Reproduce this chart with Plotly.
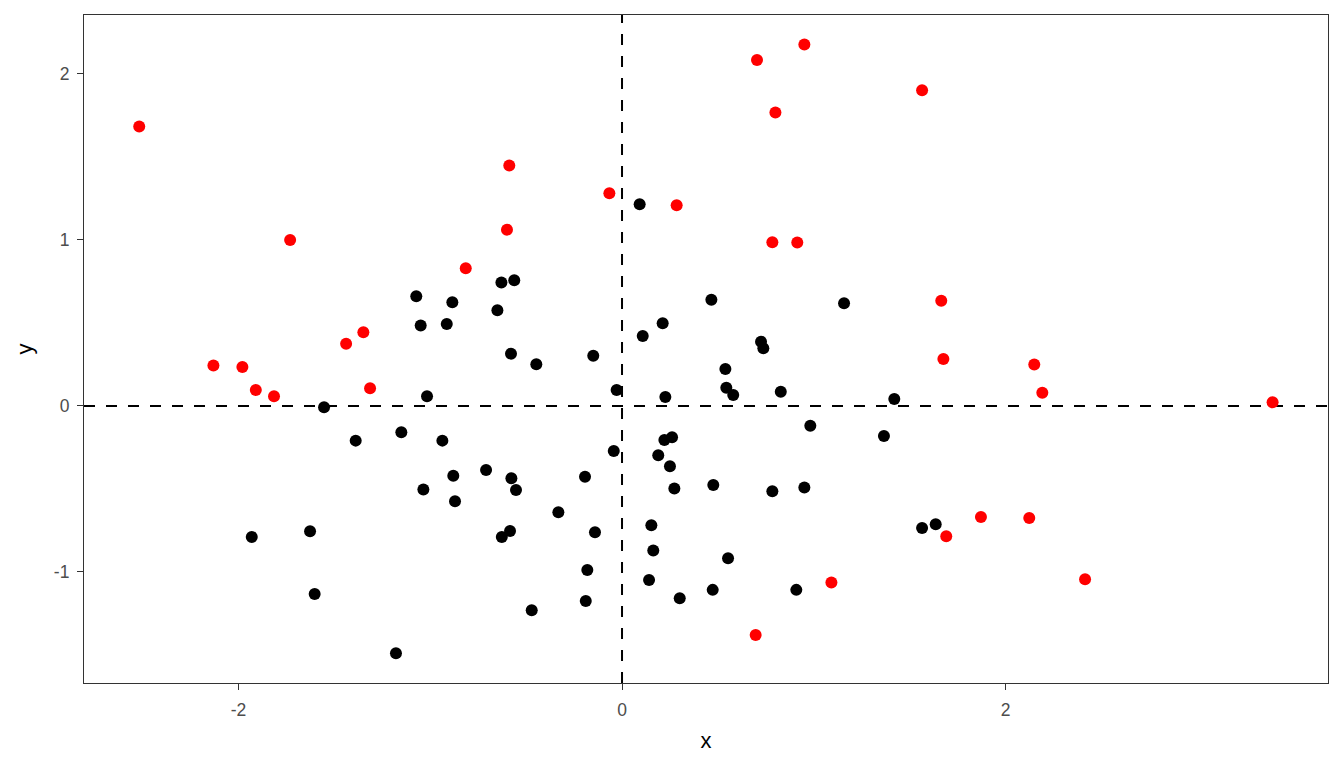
import plotly.graph_objects as go

# puntos negros (cerca del centro)
x_black = [-1.073, -0.885, -1.050, -0.914, -1.017, -1.554, -0.028, -1.389, -1.151, -0.937,
           -0.043, -0.709, -0.880, -0.577, -0.193, -0.553, -1.036, -0.871, -0.332, -1.931,
           -1.627, -0.584, -0.627, -0.141, -0.181, -1.603, -0.189, -0.471, -1.179, 0.092,
           0.466, 1.158, 0.212, 0.108, -0.150, 0.725, 0.737, 0.539, 0.544, 0.580,
           0.828, 0.226, 1.420, 0.982, 1.366, 0.221, 0.261, 0.189, 0.250, 0.273,
           0.476, 0.784, 0.951, 0.153, 0.163, 0.553, 0.141, 0.473, 0.301, 0.909,
           -0.629, -0.562, -0.650, -0.579, -0.447, 1.565, 1.636]
y_black = [0.661, 0.625, 0.484, 0.494, 0.058, -0.008, 0.096, -0.209, -0.159, -0.209,
           -0.271, -0.386, -0.420, -0.436, -0.426, -0.506, -0.504, -0.574, -0.641, -0.789,
           -0.755, -0.753, -0.789, -0.761, -0.988, -1.133, -1.175, -1.231, -1.490, 1.215,
           0.639, 0.619, 0.498, 0.422, 0.303, 0.387, 0.347, 0.223, 0.110, 0.066,
           0.086, 0.054, 0.042, -0.120, -0.181, -0.205, -0.189, -0.297, -0.363, -0.498,
           -0.476, -0.514, -0.492, -0.719, -0.871, -0.918, -1.048, -1.108, -1.159, -1.108,
           0.743, 0.757, 0.576, 0.315, 0.251, -0.735, -0.713]

# puntos rojos (alejados)
x_red = [-2.518, -1.731, -0.815, -1.349, -1.439, -2.131, -1.980, -1.910, -1.815, -1.314,
         -0.588, -0.600, -0.066, 0.285, 0.784, 0.914, 0.704, 0.951, 0.800, 1.565,
         1.665, 1.676, 2.150, 2.192, 3.393, 1.691, 1.872, 2.124, 2.415, 1.092, 0.697]
y_red = [1.683, 1.000, 0.829, 0.444, 0.375, 0.243, 0.235, 0.096, 0.058, 0.107,
         1.448, 1.062, 1.281, 1.209, 0.986, 0.984, 2.084, 2.177, 1.767, 1.902,
         0.633, 0.283, 0.249, 0.080, 0.022, -0.785, -0.669, -0.675, -1.044, -1.064, -1.380]

x_ticks = [-2, 0, 2]
x_tick_text = ["-2", "0", "2"]
y_ticks = [-1, 0, 1, 2]
y_tick_text = ["-1", "0", "1", "2"]

fig = go.Figure()
fig.add_trace(go.Scatter(x=x_black, y=y_black, mode="markers",
                         marker=dict(color="black", size=12), showlegend=False))
fig.add_trace(go.Scatter(x=x_red, y=y_red, mode="markers",
                         marker=dict(color="red", size=12), showlegend=False))

# lineas punteadas en x=0 e y=0
fig.add_hline(y=0, line=dict(color="black", width=2, dash="11px,11px"), layer="below")
fig.add_vline(x=0, line=dict(color="black", width=2, dash="11px,11px"), layer="below")

axis_style = dict(showgrid=False, zeroline=False, showline=True, mirror=True,
                  linecolor="#333333", linewidth=1.2, ticks="outside", ticklen=6,
                  tickcolor="#333333", tickwidth=1.4,
                  tickfont=dict(family="Liberation Sans, Arial", size=17.5, color="#4d4d4d"),
                  title_font=dict(family="Liberation Sans, Arial", size=22, color="black"))

fig.update_xaxes(axis_style, range=[-2.806, 3.682], tickvals=x_ticks, ticktext=x_tick_text,
                 ticklabelstandoff=5, title=dict(text="x", standoff=13))
fig.update_yaxes(axis_style, range=[-1.669, 2.355], tickvals=y_ticks, ticktext=y_tick_text,
                 ticklabelstandoff=4, title=dict(text="y", standoff=15))

fig.update_layout(plot_bgcolor="white", paper_bgcolor="white",
                  margin=dict(l=76, r=8, t=7, b=77))

fig.write_html("out.html")
